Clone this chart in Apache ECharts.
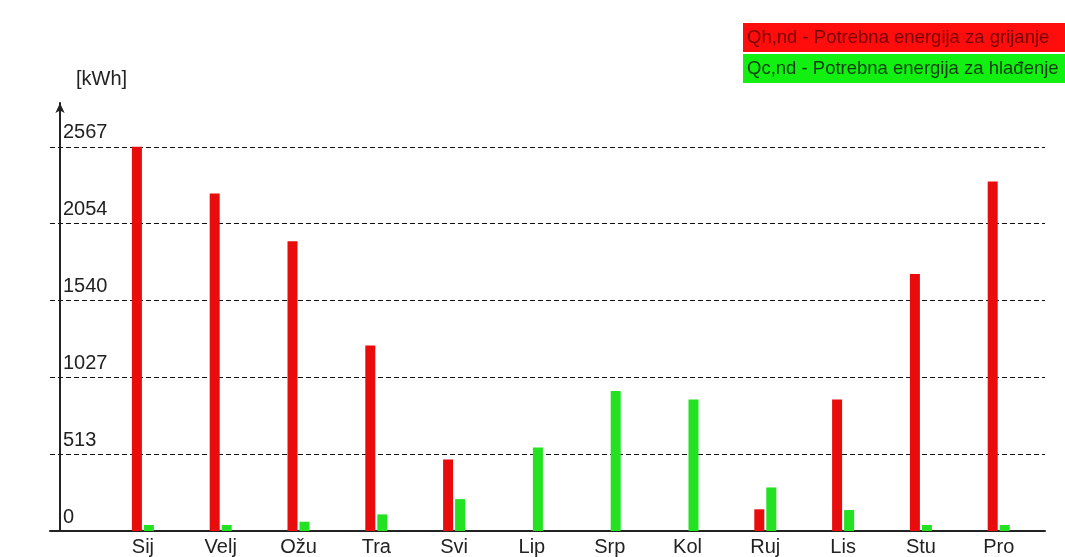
<!DOCTYPE html>
<html>
<head>
<meta charset="utf-8">
<script src="https://cdn.jsdelivr.net/npm/echarts@6/dist/echarts.min.js"></script>
<style>
  html, body { margin: 0; padding: 0; background: #fff; }
  #main { width: 1065px; height: 557px; }
</style>
</head>
<body>
<div id="main"></div>
<script>
// mjeseci
const months = ["Sij", "Velj", "Ožu", "Tra", "Svi", "Lip", "Srp", "Kol", "Ruj", "Lis", "Stu", "Pro"];
// Qh,nd - grijanje [kWh]
const heating = [2567, 2256, 1936, 1240, 478, 0, 0, 0, 145, 878, 1718, 2336];
// Qc,nd - hlađenje [kWh]
const cooling = [40, 40, 62, 111, 213, 558, 936, 878, 291, 140, 40, 40];
// oznake y osi
const yTicks = [0, 513, 1027, 1540, 2054, 2567];

const font = "'Liberation Sans', Arial, sans-serif";
const yTop = yTicks[yTicks.length - 1];
const yStep = yTop / (yTicks.length - 1);
const yMax = 2860; // malo iznad zadnje crte, zbog strelice

let myChart = echarts.init(document.getElementById("main"));
myChart.setOption({
  animation: false,
  textStyle: { fontFamily: font },
  title: {
    text: "[kWh]",
    left: 71,
    top: 64,
    textStyle: { fontSize: 20, fontWeight: "normal", color: "#222", fontFamily: font },
  },
  legend: {
    orient: "vertical",
    right: -4,
    top: 23,
    padding: 0,
    itemGap: 2,
    itemWidth: 0,
    itemHeight: 0,
    align: "left",
    selectedMode: false,
    data: [
      {
        name: "Qh,nd - Potrebna energija za grijanje",
        textStyle: {
          fontSize: 18.5, color: "#7a0000", backgroundColor: "#ff0d0d",
          width: 322, lineHeight: 19, padding: [5, 0, 5, 4], fontFamily: font,
        },
      },
      {
        name: "Qc,nd - Potrebna energija za hlađenje",
        textStyle: {
          fontSize: 18.5, color: "#0d3d0d", backgroundColor: "#12f012",
          width: 322, lineHeight: 19, padding: [5, 0, 5, 4], fontFamily: font,
        },
      },
    ],
  },
  grid: [
    // okvir: osi i isprekidane crte
    { left: 50, right: 20, top: 103, bottom: 26 },
    // stupci
    { left: 104, right: 27.4, top: 103, bottom: 26 },
  ],
  xAxis: [
    {
      gridIndex: 0,
      type: "value",
      min: 0,
      max: 1,
      axisLine: { show: true, lineStyle: { color: "#222", width: 2 } },
      axisTick: { show: false },
      axisLabel: { show: false },
      splitLine: { show: false },
    },
    {
      gridIndex: 1,
      type: "category",
      data: months,
      axisLine: { show: false },
      axisTick: { show: false },
      axisLabel: { interval: 0, fontSize: 20, color: "#222", margin: 6, fontFamily: font },
    },
  ],
  yAxis: [
    {
      gridIndex: 0,
      type: "value",
      min: 0,
      max: yMax,
      interval: yStep,
      offset: -10,
      axisLine: {
        show: true,
        symbol: ["none", "arrow"],
        symbolSize: [7, 10],
        lineStyle: { color: "#222", width: 2 },
      },
      axisTick: { show: false },
      axisLabel: {
        inside: true,
        margin: 3,
        fontSize: 20,
        color: "#222",
        verticalAlign: "bottom",
        padding: [0, 0, 4, 0],
        showMaxLabel: false,
        fontFamily: font,
        formatter: (v) => (v > yTop + 1 ? "" : String(Math.round(v))),
      },
      splitLine: {
        show: true,
        showMinLine: false,
        showMaxLine: false,
        lineStyle: { color: "#111", type: [5, 3], width: 1 },
      },
    },
    {
      gridIndex: 1,
      type: "value",
      min: 0,
      max: yMax,
      show: false,
    },
  ],
  series: [
    {
      name: "Qh,nd - Potrebna energija za grijanje",
      type: "bar",
      xAxisIndex: 1,
      yAxisIndex: 1,
      barWidth: 10,
      barGap: "20%",
      itemStyle: { color: "#e80c0c" },
      data: heating,
    },
    {
      name: "Qc,nd - Potrebna energija za hlađenje",
      type: "bar",
      xAxisIndex: 1,
      yAxisIndex: 1,
      barWidth: 10,
      barGap: "20%",
      itemStyle: { color: "#22e222" },
      data: cooling,
    },
  ],
});
</script>
</body>
</html>
